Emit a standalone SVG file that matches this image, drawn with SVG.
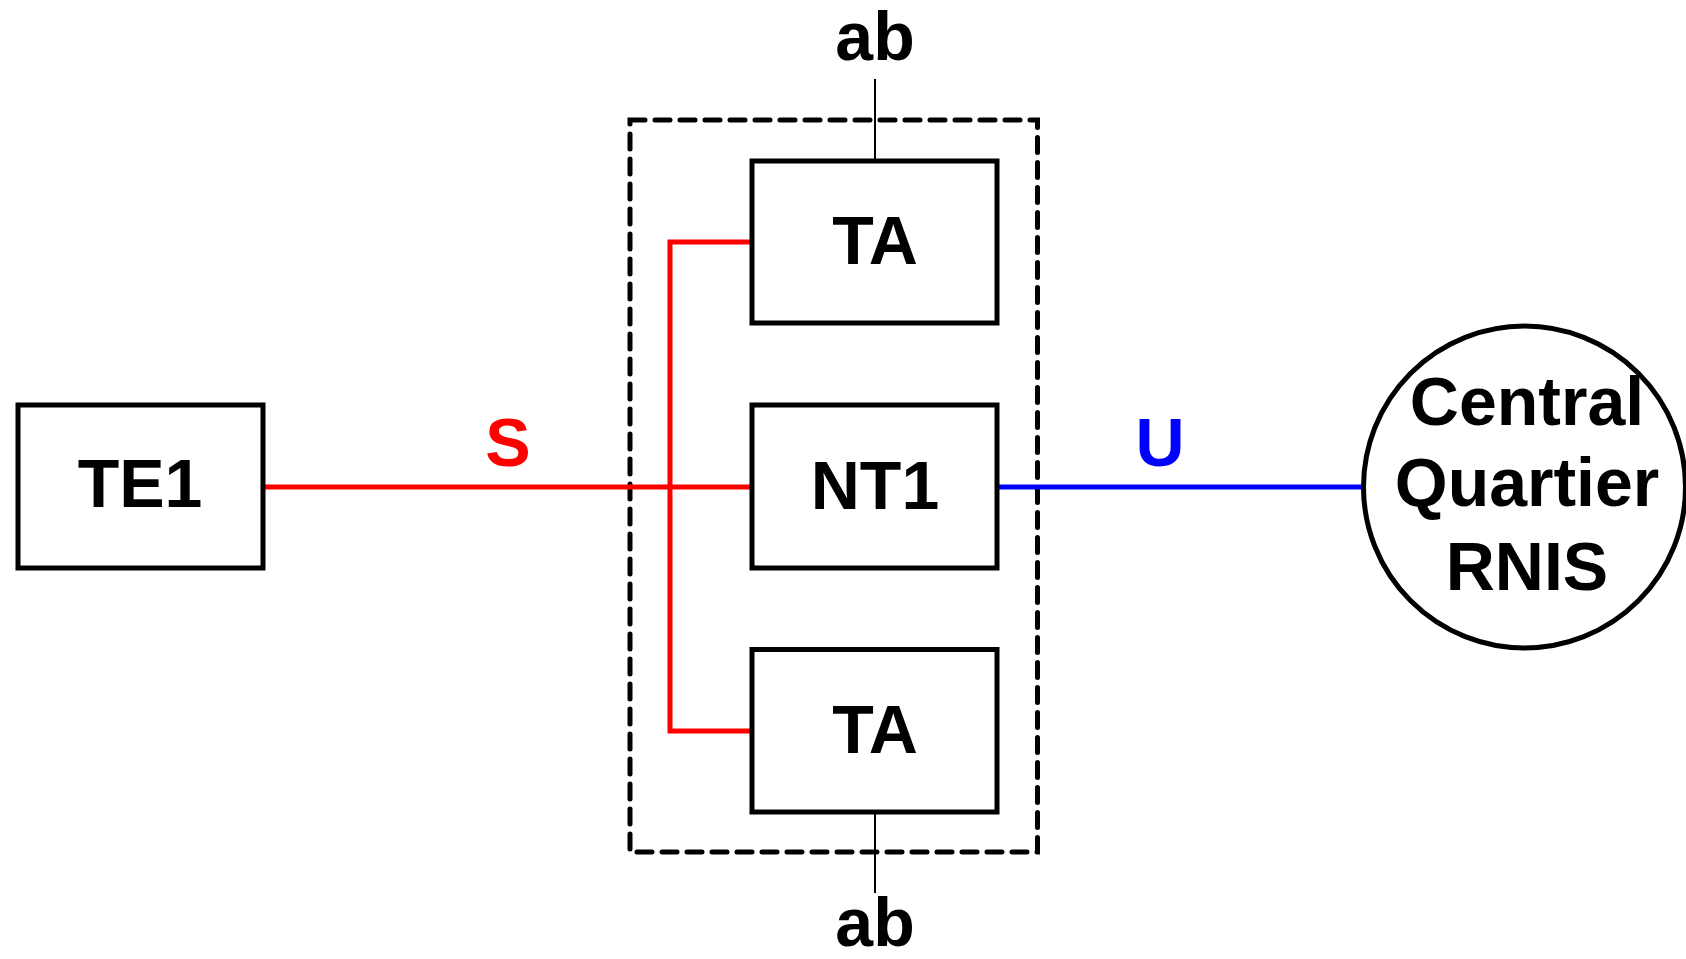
<svg xmlns="http://www.w3.org/2000/svg" width="1686" height="959" viewBox="0 0 1686 959">
<style>
.box{fill:#fff;stroke:#000;stroke-width:5}
.lbl{font-family:"Liberation Sans",Arial,sans-serif;font-weight:bold;font-size:68px;text-anchor:middle;fill:#000}
.thin{stroke:#000;stroke-width:2;fill:none}
.red{stroke:#f00;stroke-width:5;fill:none;stroke-linecap:round}
.blue{stroke:#00f;stroke-width:5;fill:none}
</style>
<rect width="1686" height="959" fill="#fff"/>
<g id="enclosure">
<rect x="630" y="120" width="407.5" height="732" fill="none" stroke="#000" stroke-width="5" stroke-dasharray="15 10" stroke-linecap="round"/>
</g>
<g id="connectors">
<line class="thin" x1="875" y1="79" x2="875" y2="161"/>
<line class="thin" x1="875" y1="812" x2="875" y2="893"/>
<polyline class="red" points="263,487 752,487"/>
<polyline class="red" points="752,242 670,242 670,731 752,731"/>
<line class="blue" x1="999" y1="487" x2="1363" y2="487"/>
</g>
<g id="TE1"><rect class="box" x="18" y="405" width="245" height="163"/><text class="lbl" x="140" y="507">TE1</text></g>
<g id="TA_top"><rect class="box" x="752" y="161" width="245" height="162"/><text class="lbl" x="875" y="264">TA</text></g>
<g id="NT1"><rect class="box" x="752" y="405" width="245" height="163"/><text class="lbl" x="875" y="509">NT1</text></g>
<g id="TA_bottom"><rect class="box" x="752" y="649.5" width="245" height="162.5"/><text class="lbl" x="875" y="753">TA</text></g>
<g id="central"><circle cx="1524.5" cy="487" r="161" fill="#fff" stroke="#000" stroke-width="5"/>
<text class="lbl" x="1527" y="425">Central</text>
<text class="lbl" x="1527" y="506">Quartier</text>
<text class="lbl" x="1527" y="590">RNIS</text></g>
<g id="labels">
<text class="lbl" x="875" y="60">ab</text>
<text class="lbl" x="875" y="946">ab</text>
<text class="lbl" x="508" y="466" style="fill:#f00">S</text>
<text class="lbl" x="1160" y="466" style="fill:#00f">U</text>
</g>
</svg>
